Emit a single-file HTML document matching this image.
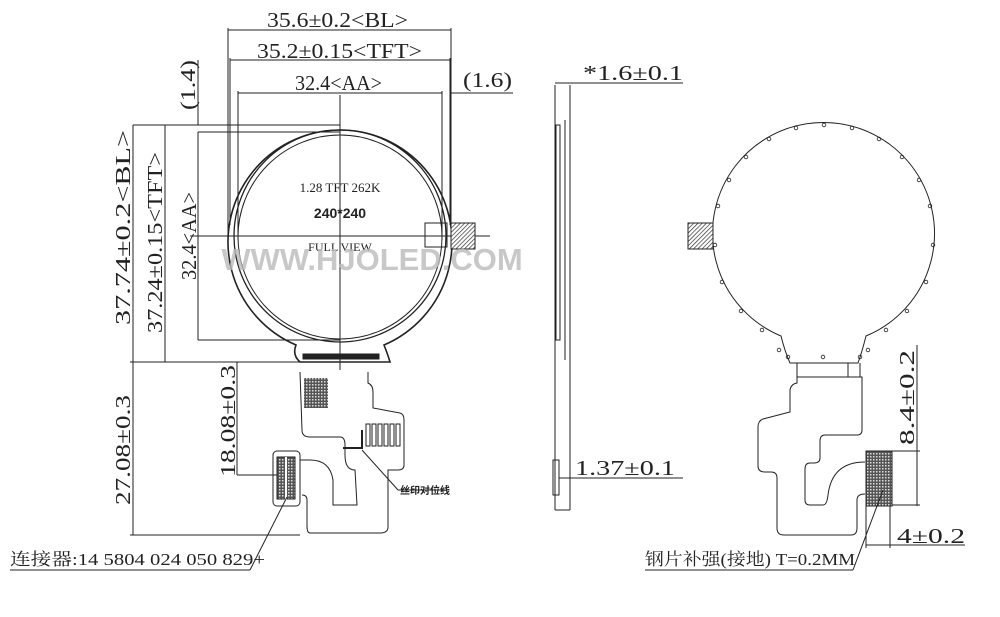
<!DOCTYPE html>
<html><head><meta charset="utf-8"><style>
html,body{margin:0;padding:0;background:#fff;}
svg{display:block}
text{font-family:"Liberation Serif","Noto Serif CJK SC",serif;fill:#222}
</style></head><body>
<svg width="1000" height="617" viewBox="0 0 1000 617" xmlns="http://www.w3.org/2000/svg">
<defs>
<pattern id="hatch" width="3" height="3" patternUnits="userSpaceOnUse" patternTransform="rotate(45)">
<rect width="3" height="3" fill="#fff"/><line x1="0" y1="0" x2="0" y2="3" stroke="#333" stroke-width="1.4"/></pattern>
<pattern id="dots" width="3" height="3" patternUnits="userSpaceOnUse">
<rect width="3" height="3" fill="#555"/><rect width="1.5" height="1.5" fill="#ddd"/></pattern>
</defs>
<g fill="none" stroke="#222" stroke-width="1">
<line x1="228" y1="30" x2="451" y2="30"/>
<line x1="230" y1="60" x2="450" y2="60"/>
<line x1="238" y1="93" x2="442" y2="93"/>
<line x1="228" y1="28" x2="228" y2="245"/>
<line x1="451" y1="28" x2="451" y2="245"/>
<line x1="230" y1="58" x2="230" y2="225"/>
<line x1="450" y1="58" x2="450" y2="225"/>
<line x1="238" y1="91" x2="238" y2="240"/>
<line x1="442" y1="91" x2="442" y2="240"/>
<line x1="451" y1="93" x2="513" y2="93"/>
<line x1="198" y1="60" x2="198" y2="125"/>
<line x1="133" y1="125" x2="340" y2="125"/>
<line x1="133" y1="125" x2="133" y2="535"/>
<line x1="165" y1="125" x2="165" y2="362"/>
<line x1="198" y1="132" x2="198" y2="340"/>
<line x1="198" y1="132" x2="340" y2="132"/>
<line x1="198" y1="340" x2="340" y2="340"/>
<line x1="130" y1="362" x2="300" y2="362"/>
<line x1="237" y1="362" x2="237" y2="475"/>
<line x1="237" y1="475" x2="295" y2="475"/>
<line x1="130" y1="535" x2="300" y2="535"/>
<path d="M296,345 A112,112 0 1 1 384,345 Q388,355 390,362 L300,362 Q292,355 296,345 Z" stroke-width="1.6"/>
<circle cx="340" cy="236" r="106" stroke-width="1.3"/>
<circle cx="340" cy="237" r="102"/>
<line x1="340" y1="95" x2="340" y2="370"/>
<line x1="190" y1="236" x2="490" y2="236"/>
<rect x="425" y="223" width="22" height="24"/>
<rect x="451" y="223" width="24" height="26" fill="url(#hatch)"/>
<path d="M300,372 L302,430 Q302,437 310,437 L340,437 Q345,437 345,445 L345,455 Q345,470 355,470 L357,505 L333,505 L333,480 Q330,460 310,460 L300,460" />
<path d="M368,372 L368,383 Q373,385 373,392 L373,408 L400,413 Q404,414 404,420 L404,465 Q404,470 398,470 L388,470 L388,527 Q388,533 380,533 L310,533 Q307,533 307,526 L307,500 Q307,495 302,495"/>
<rect x="273" y="451" width="27" height="55" rx="4"/>
<rect x="304" y="378" width="24" height="30" fill="url(#dots)" stroke="none"/>
<rect x="277" y="457" width="18" height="42" fill="url(#dots)"/>
<line x1="286" y1="457" x2="286" y2="500" stroke="#fff" stroke-width="2"/>
<g><rect x="366" y="424" width="4" height="22"/><rect x="372" y="424" width="4" height="22"/><rect x="378" y="424" width="4" height="22"/><rect x="384" y="424" width="4" height="22"/><rect x="390" y="424" width="4" height="22"/><rect x="396" y="424" width="4" height="22"/></g>
<path d="M343,448 L362,448 L362,430" stroke-width="2"/>
<line x1="362" y1="450" x2="398" y2="490"/>
<line x1="398" y1="490" x2="445" y2="490"/>
<line x1="287" y1="497" x2="250" y2="570"/>
<line x1="10" y1="570" x2="250" y2="570"/>
<rect x="303" y="354" width="76" height="5" fill="#222"/>
<line x1="555" y1="85" x2="555" y2="510"/>
<line x1="570" y1="85" x2="570" y2="360"/>
<line x1="555" y1="83" x2="683" y2="83"/>
<line x1="565" y1="120" x2="565" y2="360"/>
<rect x="556" y="125" width="4" height="215"/>
<line x1="570" y1="360" x2="570" y2="510"/>
<line x1="555" y1="510" x2="570" y2="510"/>
<rect x="553" y="460" width="6" height="35"/>
<line x1="559" y1="478" x2="683" y2="478"/>
<path d="M781,336 A111,111 0 1 1 866,336 Q862,352 858,363 L790,363 Q785,352 781,336 Z"/>
<g stroke-width="0.8">
<circle cx="824" cy="125" r="1.8"/><circle cx="796" cy="128" r="1.8"/><circle cx="852" cy="128" r="1.8"/>
<circle cx="769" cy="139" r="1.8"/><circle cx="879" cy="139" r="1.8"/><circle cx="746" cy="157" r="1.8"/><circle cx="902" cy="157" r="1.8"/>
<circle cx="729" cy="180" r="1.8"/><circle cx="919" cy="180" r="1.8"/><circle cx="718" cy="206" r="1.8"/><circle cx="930" cy="206" r="1.8"/>
<circle cx="715" cy="245" r="1.8"/><circle cx="933" cy="245" r="1.8"/><circle cx="722" cy="282" r="1.8"/><circle cx="926" cy="282" r="1.8"/>
<circle cx="741" cy="311" r="1.8"/><circle cx="907" cy="311" r="1.8"/><circle cx="762" cy="330" r="1.8"/><circle cx="886" cy="330" r="1.8"/>
<circle cx="779" cy="350" r="1.8"/><circle cx="868" cy="350" r="1.8"/><circle cx="788" cy="357" r="1.8"/><circle cx="823" cy="357" r="1.8"/><circle cx="860" cy="357" r="1.8"/>
</g>
<rect x="688" y="223" width="25" height="26" fill="url(#hatch)"/>
<path d="M797,363 L797,383 Q791,384 790,390 L790,412 L763,419 Q758,421 758,427 L758,466 Q758,472 765,472 L771,472 Q777,472 777,478 L777,528 Q777,535 784,535 L851,535 Q857,535 857,528 L857,500 Q857,494 865,494"/>
<path d="M848,363 L848,377 M860,363 L860,377 M797,377 L862,377 L862,430 Q862,435 857,435 L825,435 Q820,435 820,441 L820,458 Q820,463 814,463 L810,463 Q805,463 805,469 L805,500 Q805,505 810,505 L823,505 Q827,505 828,495 Q832,462 865,462"/>
<rect x="866" y="451" width="26" height="55" fill="url(#dots)"/>
<line x1="892" y1="451" x2="920" y2="451"/>
<line x1="892" y1="505" x2="920" y2="505"/>
<line x1="917" y1="345" x2="917" y2="506"/>
<line x1="866" y1="506" x2="866" y2="548"/>
<line x1="890" y1="506" x2="890" y2="548"/>
<line x1="866" y1="545" x2="965" y2="545"/>
<line x1="883" y1="490" x2="853" y2="570"/>
<line x1="645" y1="570" x2="853" y2="570"/>
</g>
<g font-size="21">
<text x="267" y="27" textLength="141" lengthAdjust="spacingAndGlyphs">35.6±0.2&lt;BL&gt;</text>
<text x="257" y="58" textLength="165" lengthAdjust="spacingAndGlyphs">35.2±0.15&lt;TFT&gt;</text>
<text x="295" y="90" textLength="87" lengthAdjust="spacingAndGlyphs">32.4&lt;AA&gt;</text>
<text x="463" y="87" textLength="49" lengthAdjust="spacingAndGlyphs">(1.6)</text>
<text transform="translate(195,110) rotate(-90)" textLength="50" lengthAdjust="spacingAndGlyphs">(1.4)</text>
<text transform="translate(130,325) rotate(-90)" textLength="195" lengthAdjust="spacingAndGlyphs">37.74±0.2&lt;BL&gt;</text>
<text transform="translate(162,333) rotate(-90)" textLength="181" lengthAdjust="spacingAndGlyphs">37.24±0.15&lt;TFT&gt;</text>
<text transform="translate(196,280) rotate(-90)" textLength="88" lengthAdjust="spacingAndGlyphs">32.4&lt;AA&gt;</text>
<text transform="translate(130,505) rotate(-90)" textLength="110" lengthAdjust="spacingAndGlyphs">27.08±0.3</text>
<text transform="translate(235,477) rotate(-90)" textLength="112" lengthAdjust="spacingAndGlyphs">18.08±0.3</text>
<text x="583" y="80" textLength="100" lengthAdjust="spacingAndGlyphs">*1.6±0.1</text>
<text x="575" y="475" textLength="100" lengthAdjust="spacingAndGlyphs">1.37±0.1</text>
<text transform="translate(914,445) rotate(-90)" textLength="95" lengthAdjust="spacingAndGlyphs">8.4±0.2</text>
<text x="897" y="543" textLength="68" lengthAdjust="spacingAndGlyphs">4±0.2</text>
</g>
<text x="340" y="192" font-size="13" text-anchor="middle">1.28 TFT 262K</text>
<text x="340" y="218" font-size="14" font-weight="bold" text-anchor="middle" style="font-family:'Liberation Sans',sans-serif">240*240</text>
<text x="340" y="251" font-size="12" text-anchor="middle">FULL VIEW</text>
<text x="372" y="270" font-size="31" font-weight="bold" text-anchor="middle" style="font-family:'Liberation Sans',sans-serif;fill:#bbb;opacity:.8">WWW.HJOLED.COM</text>
<text x="400" y="494" font-size="10" font-weight="bold" style="font-family:'Liberation Sans','Noto Sans CJK SC',sans-serif">丝印对位线</text>
<text x="10" y="565" font-size="17" textLength="255" lengthAdjust="spacingAndGlyphs">连接器:14 5804 024 050 829+</text>
<text x="645" y="565" font-size="17" textLength="210" lengthAdjust="spacingAndGlyphs">钢片补强(接地) T=0.2MM</text>
</svg>
</body></html>
